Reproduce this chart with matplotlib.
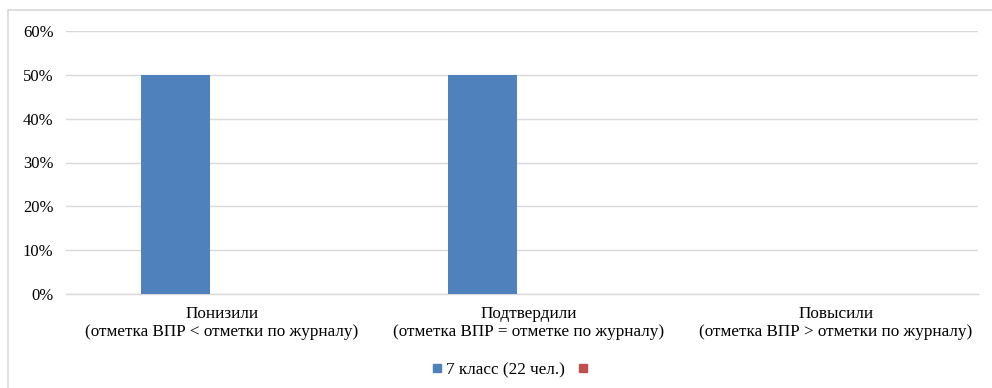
import matplotlib.pyplot as plt
from matplotlib.lines import Line2D
from matplotlib.patches import Rectangle
from matplotlib.ticker import PercentFormatter

plt.rcParams['font.family'] = ['Liberation Serif', 'DejaVu Serif']

categories = ["Понизили\n(отметка ВПР < отметки по журналу)",
              "Подтвердили\n(отметка ВПР = отметке по журналу)",
              "Повысили\n(отметка ВПР > отметки по журналу)"]
series_7 = [0.5, 0.5, 0.0]
series_other = [0.0, 0.0, 0.0]
series_names = ["7 класс (22 чел.)", ""]
colors = ["#4f81bd", "#c0504d"]

fig = plt.figure(figsize=(9.92, 3.88), dpi=100)
ax = fig.add_axes([66 / 992, 1 - 294 / 388, (978 - 66) / 992, (294 - 31) / 388])

# рамка вокруг диаграммы
fig.patches.append(Rectangle((8 / 992, -0.1), 1.1, 1 - 10 / 388 + 0.1, transform=fig.transFigure,
                             fill=False, edgecolor="#d9d9d9", linewidth=1.2))

x = range(len(categories))
w = 0.224
off = 0.1515
ax.bar([i - off for i in x], series_7, width=w, color=colors[0], zorder=3)
ax.bar([i - off + w for i in x], series_other, width=w, color=colors[1], zorder=3)

left = -0.508
ax.set_xlim(left, left + 912 / 307)
ax.set_ylim(0, 0.6)
ax.set_yticks([0, 0.1, 0.2, 0.3, 0.4, 0.5, 0.6])
ax.yaxis.set_major_formatter(PercentFormatter(1.0, decimals=0))
ax.set_xticks(list(x))
ax.set_xticklabels(categories, fontsize=12.3, linespacing=1.15)
ax.tick_params(axis='y', labelsize=12, length=0, pad=9)
ax.tick_params(axis='x', length=0, pad=9)

ax.grid(axis='y', color="#d9d9d9", linewidth=1, zorder=0)
for s in ['top', 'right', 'left']:
    ax.spines[s].set_visible(False)
ax.spines['bottom'].set_color("#d9d9d9")
ax.spines['bottom'].set_linewidth(1)

handles = [Line2D([], [], marker='s', linestyle='none', color=c, markersize=6) for c in colors]
fig.legend(handles, series_names, loc='center', bbox_to_anchor=(511 / 992, 1 - 370 / 388),
           ncol=2, frameon=False, fontsize=12.3, handletextpad=0.1, columnspacing=0.7,
           handlelength=0.8)

fig.savefig("out.png", dpi=100)
